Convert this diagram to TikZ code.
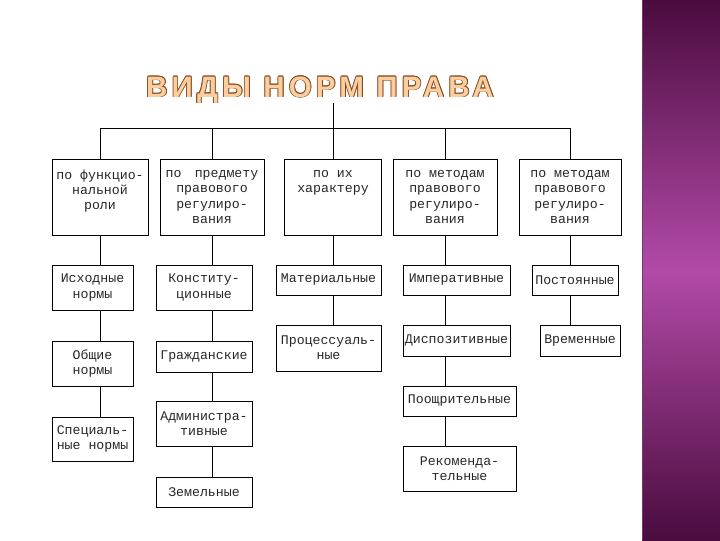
\documentclass[tikz,border=0pt]{standalone}
\usepackage{fontspec}
\usepackage{tikz}
\usetikzlibrary{positioning, calc}
\setmainfont{Liberation Serif}
\newfontfamily\titlefont[LetterSpace=14]{Liberation Sans}
\newfontfamily\boxfont{Liberation Mono}
\definecolor{titlefill}{RGB}{250,206,160}
\definecolor{titleline}{RGB}{130,75,30}
\definecolor{bardark}{RGB}{74,12,62}
\definecolor{barmid}{RGB}{178,74,168}

\begin{document}
\begin{tikzpicture}[x=0.025cm, y=-0.025cm,
    bw/.style={minimum width=#1*0.025cm},
    bh/.style={minimum height=#1*0.025cm},
    box/.style={draw=black, line width=0.6pt, inner sep=0pt, align=center,
      text=black!85, font={\boxfont\fontsize{9.4}{10.8}\selectfont}},
    link/.style={black, line width=0.6pt},
    titletext/.style={anchor=base, inner sep=0pt,
      font={\titlefont\bfseries\fontsize{21}{24}\selectfont}}]
  \useasboundingbox (0,0) rectangle (720,540);
  % Right band
  \shade[top color=bardark, bottom color=bardark, middle color=barmid] (642,0) rectangle (720,540);
  \draw[bardark!80, line width=1pt] (642.5,0) -- (642.5,540);
  % Title
  \foreach \dx/\dy in {-0.6/0,0.6/0,0/-0.6,0/0.6,-0.45/-0.45,0.45/0.45,-0.45/0.45,0.45/-0.45}
    \node[titletext, text=titleline, xshift=\dx pt, yshift=\dy pt] at (320,97) {ВИДЫ НОРМ ПРАВА};
  \node[titletext, text=titlefill] (title) at (320,97) {ВИДЫ НОРМ ПРАВА};
  % Headers
  \node[box, bw=96, bh=76] (h1) at (100,197) {по функцио-\\нальной\\роли\\\mbox{}};
  \node[box, bw=104, bh=76] (h2) at (212,197) {по\quad предмету\\правового\\регулиро-\\вания};
  \node[box, bw=97, bh=76] (h3) at (333,197) {по их\\характеру\\\mbox{}\\\mbox{}};
  \node[box, bw=104, bh=76] (h4) at (445,197) {по методам\\правового\\регулиро-\\вания};
  \node[box, bw=102, bh=76] (h5) at (570,197) {по методам\\правового\\регулиро-\\вания};
  % Column 1
  \node[box, bw=81, bh=45] (a1) at (92.5,287.5) {Исходные\\нормы};
  \node[box, bw=81, bh=45] (a2) at (92.5,363.5) {Общие\\нормы};
  \node[box, bw=81, bh=44] (a3) at (92.5,439) {Специаль-\\ные нормы};
  % Column 2
  \node[box, bw=96, bh=45] (b1) at (204,287.5) {Конститу-\\ционные};
  \node[box, bw=96, bh=31] (b2) at (204,356.5) {Гражданские};
  \node[box, bw=96, bh=45] (b3) at (204,423.5) {Администра-\\тивные};
  \node[box, bw=96, bh=30] (b4) at (204,492) {Земельные};
  % Column 3
  \node[box, bw=105, bh=30] (m1) at (328.5,280) {Материальные};
  \node[box, bw=105, bh=46] (m2) at (328.5,348) {Процессуаль-\\ные};
  % Column 4
  \node[box, bw=107, bh=30] (d1) at (456.5,280) {Императивные};
  \node[box, bw=107, bh=31] (d2) at (456.5,340.5) {Диспозитивные};
  \node[box, bw=113, bh=30] (d3) at (459.5,401) {Поощрительные};
  \node[box, bw=113, bh=45] (d4) at (459.5,468.5) {Рекоменда-\\тельные};
  % Column 5
  \node[box, bw=86, bh=30] (e1) at (575,280) {Постоянные};
  \node[box, bw=80, bh=31] (e2) at (580,340.5) {Временные};
  % Connectors
  \coordinate (bus) at (333,128);
  \draw[link] (title.south -| h3.north) -- (h3.north);
  \draw[link] (h1.north |- bus) -- (h5.north |- bus);
  \foreach \n in {h1,h2,h4,h5}
    \draw[link] (\n.north |- bus) -- (\n.north);
  \foreach \u/\v in {h1/a1,a1/a2,a2/a3}
    \draw[link] (h1.south |- \u.south) -- (h1.south |- \v.north);
  \foreach \u/\v in {h2/b1,b1/b2,b2/b3,b3/b4}
    \draw[link] (h2.south |- \u.south) -- (h2.south |- \v.north);
  \foreach \u/\v in {h3/m1,m1/m2}
    \draw[link] (h3.south |- \u.south) -- (h3.south |- \v.north);
  \foreach \u/\v in {h4/d1,d1/d2,d2/d3,d3/d4}
    \draw[link] (h4.south |- \u.south) -- (h4.south |- \v.north);
  \foreach \u/\v in {h5/e1,e1/e2}
    \draw[link] (h5.south |- \u.south) -- (h5.south |- \v.north);
\end{tikzpicture}
\end{document}
